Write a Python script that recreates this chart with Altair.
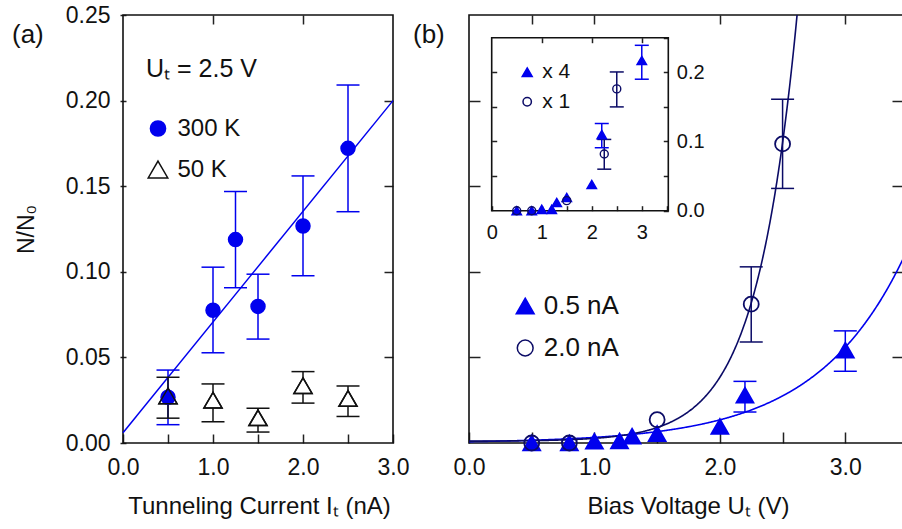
import altair as alt
import pandas as pd

FONT = "Liberation Sans"
BLUE = "#0000ee"
NAVY = "#0b0b66"
INK = "#111111"

# ---------------- data ----------------
# panel (a): N/N0 versus tunneling current, U_t = 2.5 V
curr_300 = [0.5, 1.0, 1.25, 1.5, 2.0, 2.5]
n_300 = [0.0267, 0.0775, 0.1188, 0.0798, 0.1267, 0.1721]
n_300_lo = [0.0107, 0.0527, 0.0907, 0.0607, 0.0977, 0.1351]
n_300_hi = [0.0426, 0.1027, 0.1469, 0.0986, 0.1560, 0.2091]
curr_50 = [0.5, 1.0, 1.5, 2.0, 2.5]
n_50 = [0.0275, 0.0250, 0.0147, 0.0335, 0.0260]
n_50_lo = [0.0145, 0.0124, 0.0064, 0.0233, 0.0155]
n_50_hi = [0.0384, 0.0345, 0.0203, 0.0417, 0.0333]
fit_a_curr = [0.0, 3.0]
fit_a_n = [0.006, 0.200]

# panel (b): N/N0 versus bias voltage
volt_05 = [0.5, 0.8, 1.0, 1.2, 1.3, 1.5, 2.0, 2.2, 3.0]
n_05 = [0.0, 0.0, 0.0010, 0.0012, 0.0040, 0.0055, 0.0097, 0.0279, 0.0542]
err_05_volt = [2.2, 3.0]
err_05_lo = [0.0181, 0.0419]
err_05_hi = [0.0360, 0.0655]
volt_20 = [0.5, 0.8, 1.5, 2.25, 2.5]
n_20 = [0.0, 0.0, 0.0136, 0.0811, 0.1747]
err_20_volt = [2.25, 2.5]
err_20_lo = [0.0590, 0.1487]
err_20_hi = [0.1029, 0.2008]
# exponential fits:  0.5 nA: a*exp(b*U) ;  2.0 nA: c + a*exp(b*U)
fit_05 = {"a": 0.00079, "b": 1.42}
fit_20 = {"c": 0.001, "a": 7.9e-5, "b": 3.08}

# inset of panel (b)
ins_volt_x4 = [0.5, 0.8, 1.0, 1.2, 1.3, 1.5, 2.0, 2.2, 3.0]
ins_n_x4 = [0.0, 0.0, 0.002, 0.002, 0.012, 0.019, 0.038, 0.110, 0.217]
ins_err_x4_volt = [2.2, 3.0]
ins_err_x4_lo = [0.091, 0.190]
ins_err_x4_hi = [0.126, 0.239]
ins_volt_x1 = [0.5, 0.8, 1.5, 2.25, 2.5]
ins_n_x1 = [0.0, 0.0, 0.0145, 0.082, 0.176]
ins_err_x1_volt = [2.25, 2.5]
ins_err_x1_lo = [0.060, 0.150]
ins_err_x1_hi = [0.103, 0.2005]

panel_labels = ["(a)", "(b)"]
series_a = ["300 K", "50 K"]
series_b = ["0.5 nA", "2.0 nA"]
series_c = ["x 4", "x 1"]

ticks_x_a = [0, 0.5, 1, 1.5, 2, 2.5, 3]
ticks_x_a_top = [1, 2]
ticks_x_b = [0, 0.5, 1, 1.5, 2, 2.5, 3]
ticks_x_b_top = [0.5, 1, 2, 3]
ticks_y = [0, 0.05, 0.1, 0.15, 0.2, 0.25]
ticks_y_inner = [0.05, 0.1, 0.15, 0.2]
ticks_x_c = [0, 0.5, 1, 1.5, 2, 2.5, 3, 3.5]
ticks_x_c_top = [1, 2, 3]

# ---------------- layout (pixels inside the plot group) ----------------
W, H = 779, 428
XA = alt.Scale(domain=[0, 3], range=[0, 270], nice=False, zero=False)
YA = alt.Scale(domain=[0, 0.25], range=[H, 0], nice=False, zero=False)
XB = alt.Scale(domain=[0, 3.46], range=[346, 780], nice=False, zero=False)
XC = alt.Scale(domain=[0, 3.53], range=[368.7, 545.3], nice=False, zero=False)
YC = alt.Scale(domain=[0, 0.25], range=[195.7, 22.7], nice=False, zero=False)

TRI_A = "M0,-1.11L1.29,1.11L-1.29,1.11Z"
TRI_B = "M0,-0.99L1.13,0.99L-1.13,0.99Z"
TRI_C = "M0,-1.03L1.19,1.03L-1.19,1.03Z"

INT1 = "datum.value % 1 === 0 ? format(datum.value, '.1f') : ''"
INT0 = "datum.value % 1 === 0 ? format(datum.value, 'd') : ''"
TENTH = "round(datum.value * 20) % 2 === 0 && datum.value < 0.24 ? format(datum.value, '.1f') : ''"

ax_a_bottom = alt.Axis(orient="bottom", values=ticks_x_a, labelExpr=INT1, tickSize=9, offset=-9,
                       labelPadding=13, title="Tunneling Current Iₜ (nA)", titleX=136, titleY=79,
                       titleBaseline="alphabetic", titleAlign="center")
ax_a_left = alt.Axis(orient="left", values=ticks_y, format=".2f", tickSize=6, offset=-3,
                     labelPadding=10, title="N/N₀", titleX=-93, titleBaseline="alphabetic",
                     titleFontSize=23)
ax_a_top = alt.Axis(orient="top", values=ticks_x_a_top, labels=False, tickSize=9, offset=-9, title=None)
ax_a_right = alt.Axis(orient="right", values=ticks_y_inner, labels=False, tickSize=9,
                      offset=(270 - 9) - W, title=None)

ax_b_bottom = alt.Axis(orient="bottom", values=ticks_x_b, labelExpr=INT1, tickSize=11, offset=-11,
                       labelPadding=13, title="Bias Voltage Uₜ (V)", titleX=565, titleY=81,
                       titleBaseline="alphabetic", titleAlign="center")
ax_b_left = alt.Axis(orient="left", values=ticks_y_inner, labels=False, tickSize=11, offset=-(346 + 11), title=None)
ax_b_top = alt.Axis(orient="top", values=ticks_x_b_top, labels=False, tickSize=9, offset=-9, title=None)
ax_b_right = alt.Axis(orient="right", values=ticks_y_inner, labels=False, tickSize=11,
                      offset=(780 - 11) - W, title=None)

ax_c_bottom = alt.Axis(orient="bottom", values=ticks_x_c, labelExpr=INT0, tickSize=5,
                       offset=(195.7 - 5) - H, labelPadding=12, labelFontSize=20, title=None)
ax_c_right = alt.Axis(orient="right", values=ticks_y, labelExpr=TENTH, tickSize=5,
                      offset=(545.3 - 5) - W, labelPadding=8, labelFontSize=20, title=None)
ax_c_left = alt.Axis(orient="left", values=ticks_y_inner, labels=False, tickSize=5, offset=-(368.7 + 5), title=None)
ax_c_top = alt.Axis(orient="top", values=ticks_x_c_top, labels=False, tickSize=5, offset=-(22.7 + 5), title=None)


def frame(xdom, ydom, xs, ys, xaxis, yaxis, sw):
    df = pd.DataFrame({"x0": [xdom[0]], "x1": [xdom[1]], "y0": [ydom[0]], "y1": [ydom[1]]})
    return alt.Chart(df).mark_rect(fill="transparent", stroke=INK, strokeWidth=sw).encode(
        x=alt.X("x0:Q", scale=xs, axis=xaxis), x2="x1:Q",
        y=alt.Y("y0:Q", scale=ys, axis=yaxis), y2="y1:Q")


def errbars(df, xf, xs, ys, field, domain, colors, cap, sw=1.5, xaxis=None, yaxis=None):
    col = alt.Color(field, type="nominal", scale=alt.Scale(domain=domain, range=colors), legend=None)
    bars = alt.Chart(df).mark_rule(strokeWidth=sw).encode(
        x=alt.X(xf, type="quantitative", scale=xs, axis=xaxis),
        y=alt.Y("lo", type="quantitative", scale=ys, axis=yaxis),
        y2="hi", color=col)
    caps = alt.Chart(df).transform_fold(["lo", "hi"], as_=["end", "v"]).mark_tick(
        orient="horizontal", size=cap, thickness=sw, opacity=1).encode(
        x=alt.X(xf, type="quantitative", scale=xs, axis=None),
        y=alt.Y("v:Q", scale=ys, axis=None), color=col)
    return bars, caps


def points(df, xf, xs, ys, field, domain, shapes, strokes, fills, size, sw, legend):
    return alt.Chart(df).mark_point(size=size, strokeWidth=sw, opacity=1).encode(
        x=alt.X(xf, type="quantitative", scale=xs, axis=None),
        y=alt.Y("N", type="quantitative", scale=ys, axis=None),
        shape=alt.Shape(field, type="nominal", scale=alt.Scale(domain=domain, range=shapes), legend=legend),
        stroke=alt.Stroke(field, type="nominal", scale=alt.Scale(domain=domain, range=strokes), legend=legend),
        fill=alt.Fill(field, type="nominal", scale=alt.Scale(domain=domain, range=fills), legend=legend),
    )


def legend(x, y, size, fs, loff, rowpad, title=None, tpad=0, tfs=None):
    kw = dict(orient="none", legendX=x, legendY=y, labelFont=FONT, labelFontSize=fs, labelColor=INK,
              labelOffset=loff, rowPadding=rowpad, symbolSize=size, symbolStrokeWidth=1.5, padding=0)
    if title is None:
        return alt.Legend(title=None, **kw)
    return alt.Legend(title=title, titleFont=FONT, titleFontSize=tfs or fs, titleFontWeight="normal",
                      titleColor=INK, titlePadding=tpad, **kw)


# ---------------- panel (a) ----------------
err_a = pd.DataFrame({"I": curr_300 + curr_50, "lo": n_300_lo + n_50_lo, "hi": n_300_hi + n_50_hi,
                      "T": [series_a[0]] * len(curr_300) + [series_a[1]] * len(curr_50)})
pts_a = pd.DataFrame({"I": curr_50 + curr_300, "N": n_50 + n_300,
                      "T": [series_a[1]] * len(curr_50) + [series_a[0]] * len(curr_300)})
tri_a = pd.DataFrame({"I": curr_50, "N": n_50})
fit_a = pd.DataFrame({"I": fit_a_curr, "N": fit_a_n})

frame_a = frame([0, 3], [0, 0.25], XA, YA, ax_a_bottom, ax_a_left, 1.6)
line_a = alt.Chart(fit_a).mark_line(color=BLUE, strokeWidth=1.5).encode(
    x=alt.X("I:Q", scale=XA, axis=ax_a_top), y=alt.Y("N:Q", scale=YA, axis=ax_a_right))
bars_a, caps_a = errbars(err_a, "I", XA, YA, "T", series_a, [BLUE, INK], 23)
pts_a_layer = points(pts_a, "I", XA, YA, "T", series_a, ["circle", TRI_A], [BLUE, INK], [BLUE, "white"],
                     196, 1.5, legend(23, 41.5, 230, 24, 7.5, 17, title="Uₜ = 2.5 V", tpad=35, tfs=25))
tri_a_layer = alt.Chart(tri_a).mark_point(shape=TRI_A, size=196, stroke=INK, fill="transparent",
                                          strokeWidth=1.5, opacity=1).encode(
    x=alt.X("I:Q", scale=XA, axis=None), y=alt.Y("N:Q", scale=YA, axis=None))

# ---------------- panel (b) ----------------
err_b = pd.DataFrame({"U": err_05_volt + err_20_volt, "lo": err_05_lo + err_20_lo,
                      "hi": err_05_hi + err_20_hi,
                      "S": [series_b[0]] * len(err_05_volt) + [series_b[1]] * len(err_20_volt)})
pts_b = pd.DataFrame({"U": volt_05 + volt_20, "N": n_05 + n_20,
                      "S": [series_b[0]] * len(volt_05) + [series_b[1]] * len(volt_20)})

frame_b = frame([0, 3.46], [0, 0.25], XB, YA, ax_b_bottom, ax_b_left, 1.6)
curves_b = alt.Chart(alt.sequence(0, 3.47, 0.005, as_="U")).transform_calculate(
    fit05=f"{fit_05['a']} * exp({fit_05['b']} * datum.U)",
    fit20=f"{fit_20['c']} + {fit_20['a']} * exp({fit_20['b']} * datum.U)",
).transform_fold(["fit05", "fit20"], as_=["S", "N"]).mark_line(clip=True, strokeWidth=1.6).encode(
    x=alt.X("U:Q", scale=XB, axis=ax_b_top),
    y=alt.Y("N:Q", scale=YA, axis=ax_b_right),
    color=alt.Color("S:N", scale=alt.Scale(domain=["fit05", "fit20"], range=[BLUE, NAVY]), legend=None),
)
bars_b, caps_b = errbars(err_b, "U", XB, YA, "S", series_b, [BLUE, NAVY], 23)
pts_b_layer = points(pts_b, "U", XB, YA, "S", series_b, [TRI_B, "circle"], [BLUE, NAVY], [BLUE, "transparent"],
                     225, 1.8, legend(389.2, 278, 250, 26, 5.5, 16))

# ---------------- inset ----------------
err_c = pd.DataFrame({"U": ins_err_x4_volt + ins_err_x1_volt, "lo": ins_err_x4_lo + ins_err_x1_lo,
                      "hi": ins_err_x4_hi + ins_err_x1_hi,
                      "S": [series_c[0]] * len(ins_err_x4_volt) + [series_c[1]] * len(ins_err_x1_volt)})
pts_c = pd.DataFrame({"U": ins_volt_x4 + ins_volt_x1, "N": ins_n_x4 + ins_n_x1,
                      "S": [series_c[0]] * len(ins_volt_x4) + [series_c[1]] * len(ins_volt_x1)})

frame_c = frame([0, 3.53], [0, 0.25], XC, YC, ax_c_bottom, ax_c_right, 1.6)
bars_c, caps_c = errbars(err_c, "U", XC, YC, "S", series_c, [BLUE, NAVY], 14, xaxis=ax_c_top, yaxis=ax_c_left)
pts_c_layer = points(pts_c, "U", XC, YC, "S", series_c, [TRI_C, "circle"], [BLUE, NAVY], [BLUE, "transparent"],
                     64, 1.4, legend(393.7, 46.7, 70, 21, 4.5, 7.5))

# ---------------- panel letters ----------------
lab_a = alt.Chart(pd.DataFrame({"t": [panel_labels[0]]})).mark_text(
    align="left", baseline="middle", fontSize=26, font=FONT, color=INK).encode(
    text="t:N", x=alt.value(-111), y=alt.value(20))
lab_b = alt.Chart(pd.DataFrame({"t": [panel_labels[1]]})).mark_text(
    align="left", baseline="middle", fontSize=26, font=FONT, color=INK).encode(
    text="t:N", x=alt.value(290), y=alt.value(20))

chart = alt.layer(
    frame_a, line_a, bars_a, caps_a, pts_a_layer, tri_a_layer,
    frame_b, curves_b, bars_b, caps_b, pts_b_layer,
    frame_c, bars_c, caps_c, pts_c_layer,
    lab_a, lab_b,
).resolve_scale(
    x="independent", y="independent", color="independent",
    stroke="independent", fill="independent", shape="independent",
).properties(
    width=W, height=H,
    autosize=alt.AutoSizeParams(type="none"),
    padding={"left": 123, "top": 15, "right": 0, "bottom": 86},
).configure(font=FONT).configure_view(stroke=None).configure_axis(
    grid=False, domain=False, labelFont=FONT, labelFontSize=23, labelColor=INK,
    titleFont=FONT, titleFontSize=24, titleFontWeight="normal", titleColor=INK,
    tickColor="#222222", tickWidth=1.5, labelFlush=False, labelOverlap=False,
)

chart.save("out.html", embed_options={"renderer": "svg", "actions": False})
